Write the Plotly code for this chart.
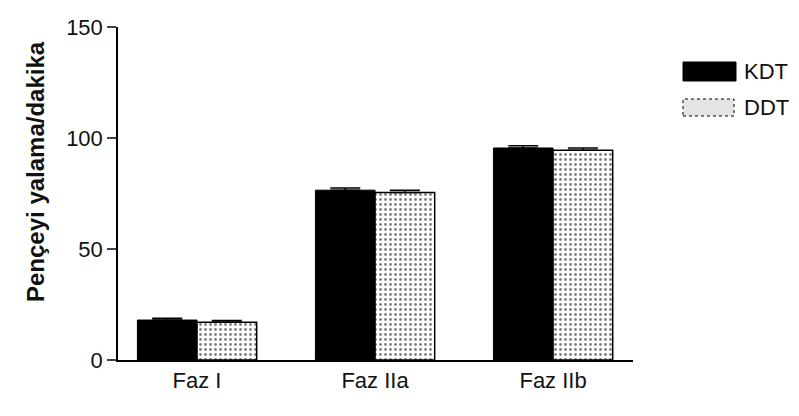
import plotly.graph_objects as go

categories = ["Faz I", "Faz IIa", "Faz IIb"]
kdt_values = [18, 76.5, 95.5]
ddt_values = [17, 75.5, 94.5]
kdt_err = [0.8, 1.0, 1.0]
ddt_err = [0.8, 1.0, 1.0]
y_ticks = [0, 50, 100, 150]
legend_labels = ["KDT", "DDT"]
y_title = "Pençeyi yalama/dakika"

L, R, T, B = 110, 174, 19, 64
W, H = 799, 416
pw, ph = W - L - R, H - T - B

def px(x):
    return (x - L) / pw

def py(y):
    return (H - B - y) / ph

fig = go.Figure()
fig.add_trace(go.Bar(
    name=legend_labels[0], x=categories, y=kdt_values,
    marker=dict(color="black", line=dict(color="black", width=1)),
    error_y=dict(type="data", array=kdt_err, arrayminus=[0, 0, 0], color="black", thickness=1.5, width=15),
))
fig.add_trace(go.Bar(
    name=legend_labels[1], x=categories, y=ddt_values,
    marker=dict(color="white", line=dict(color="black", width=1.5),
                pattern=dict(shape=".", fgcolor="black", bgcolor="white", size=5, solidity=0.25)),
    error_y=dict(type="data", array=ddt_err, arrayminus=[0, 0, 0], color="black", thickness=1.5, width=15),
))

# manual legend (large swatches like the reference)
fig.add_shape(type="rect", xref="paper", yref="paper",
              x0=px(675), x1=px(728), y0=py(73), y1=py(54),
              fillcolor="black", line=dict(color="black", width=1))
fig.add_shape(type="rect", xref="paper", yref="paper",
              x0=px(675), x1=px(726), y0=py(108), y1=py(91),
              fillcolor="#e4e4e4", line=dict(color="black", width=1, dash="dot"))
fig.add_annotation(xref="paper", yref="paper", x=px(734), y=py(64), text=legend_labels[0],
                   showarrow=False, xanchor="left", yanchor="middle", font=dict(size=22))
fig.add_annotation(xref="paper", yref="paper", x=px(734), y=py(100), text=legend_labels[1],
                   showarrow=False, xanchor="left", yanchor="middle", font=dict(size=22))
# y-axis title placed like the reference
fig.add_annotation(xref="paper", yref="paper", x=px(28), y=py(164), text="<b>" + y_title + "</b>",
                   textangle=-90, showarrow=False, xanchor="center", yanchor="middle",
                   font=dict(size=24))

fig.update_layout(
    width=W, height=H,
    margin=dict(l=L, r=R, t=T, b=B),
    paper_bgcolor="white", plot_bgcolor="white",
    barmode="group", bargap=0.33, bargroupgap=0,
    font=dict(family="Liberation Sans, Arial, sans-serif", color="#111", size=22),
    showlegend=False,
)
fig.update_yaxes(
    range=[0, 150], tickvals=y_ticks, ticks="outside", ticklen=9, tickwidth=1.5,
    showline=True, linecolor="black", linewidth=1.5, showgrid=False, zeroline=False,
    tickfont=dict(size=22), automargin=False,
)
fig.update_xaxes(
    range=[-0.444, 2.449],
    showline=True, linecolor="black", linewidth=1.5, ticks="", showgrid=False,
    tickfont=dict(size=22), automargin=False,
)

fig.write_html("out.html")
